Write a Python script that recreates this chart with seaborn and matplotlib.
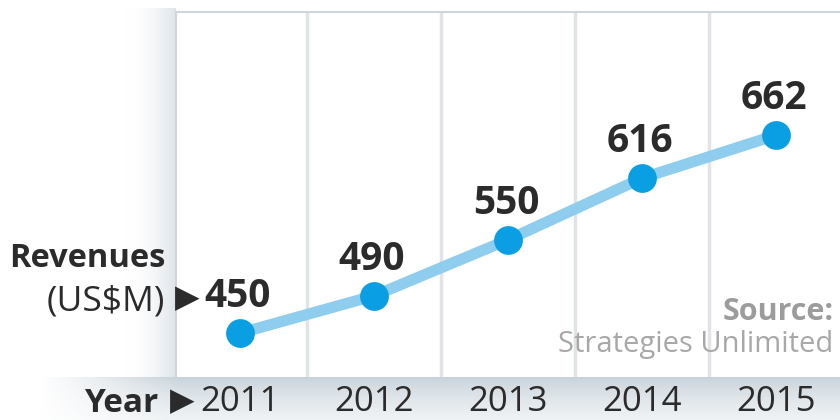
import numpy as np
import pandas as pd
import matplotlib
matplotlib.use("Agg")
import matplotlib.pyplot as plt
import seaborn as sns

# Revenue series
years = ["2011", "2012", "2013", "2014", "2015"]
revenues = [450, 490, 550, 616, 662]

df = pd.DataFrame({"idx": range(len(years)), "year": years, "revenue": revenues})

sns.set_theme(style="white")
plt.rcParams["font.family"] = ["Open Sans", "DejaVu Sans"]

W, H = 840, 420
fig = plt.figure(figsize=(W / 100, H / 100), dpi=100)
fig.patch.set_facecolor("white")

# background: soft shadow left of the panel and a tinted strip beneath it
bg = fig.add_axes([0, 0, 1, 1], zorder=-5)
bg.set_axis_off()
img = np.ones((H, W, 3))
white = np.array([1.0, 1.0, 1.0])
# left shadow
x0, x1 = 125, 176
shade = np.array([0xdd, 0xe3, 0xe8]) / 255
for x in range(x0, x1):
    t = ((x - x0) / (x1 - x0)) ** 2
    img[8:377, x] = white * (1 - t) + shade * t
# bottom strip, fading out towards the left
top_c = np.array([0xc6, 0xd1, 0xd9]) / 255
bot_c = np.array([0xf0, 0xf3, 0xf5]) / 255
for y in range(377, H):
    t = ((y - 377) / (H - 377)) ** 0.7
    row = top_c * (1 - t) + bot_c * t
    for x in range(40, W):
        u = min(1.0, (x - 40) / 140)
        img[y, x] = white * (1 - u) + row * u
bg.imshow(img, extent=(0, W, H, 0), aspect="auto")
bg.set_xlim(0, W)
bg.set_ylim(H, 0)

# main panel
ax = fig.add_axes([176 / W, (H - 377) / H, 664 / W, 365 / H])
ax.set_facecolor("white")

sns.lineplot(data=df, x="idx", y="revenue", ax=ax, color="#8fcdee",
             linewidth=8, solid_capstyle="round", zorder=3)
sns.scatterplot(data=df, x="idx", y="revenue", ax=ax, color="#0a9ee2",
                s=430, linewidth=0, zorder=4)

ax.set_xlim(-0.478, 4.478)
ax.set_ylim(403, 794)

# column separators
for b in np.arange(0.5, len(years) - 0.5, 1.0):
    ax.axvline(b, color="#e0e4e7", linewidth=2.5, zorder=1)

for s in ["right", "bottom"]:
    ax.spines[s].set_visible(False)
for s in ["top", "left"]:
    ax.spines[s].set_color("#cfd5d9")
    ax.spines[s].set_linewidth(1.5)

ax.set_xticks(range(len(years)))
ax.set_xticklabels(years, fontsize=25, color="#2b2b2b")
ax.set_yticks([])
ax.tick_params(axis="x", length=0, pad=6)
ax.set_xlabel("")
ax.set_ylabel("")

# value labels
for i, v in enumerate(revenues):
    ax.annotate(str(v), (i, v), xytext=(-2, 26), textcoords="offset pixels",
                ha="center", va="baseline", fontsize=28, fontweight="bold",
                color="#2b2b2b", zorder=5)

def ftext(x, y, s, **kw):
    fig.text(x / W, 1 - y / H, s, **kw)

ftext(166, 267, "Revenues", ha="right", va="baseline", fontsize=23.5,
      fontweight="bold", color="#2b2b2b")
ftext(165, 310, "(US$M)", ha="right", va="baseline", fontsize=25.5,
      fontweight="medium", color="#2b2b2b")
ftext(200, 307, "\u25b6", ha="right", va="baseline", fontsize=23,
      family="DejaVu Sans", color="#2b2b2b")
ftext(158, 412, "Year", ha="right", va="baseline", fontsize=24,
      fontweight="bold", color="#2b2b2b")
ftext(195, 410, "\u25b6", ha="right", va="baseline", fontsize=23,
      family="DejaVu Sans", color="#2b2b2b")

ax.text(0.99, 0.156, "Source:", transform=ax.transAxes, ha="right",
        va="baseline", fontsize=22, fontweight="bold", color="#9c9c9c", zorder=6)
ax.text(0.99, 0.068, "Strategies Unlimited", transform=ax.transAxes,
        ha="right", va="baseline", fontsize=21, color="#a8a8a8", zorder=6)

fig.savefig("out.png", dpi=100)
